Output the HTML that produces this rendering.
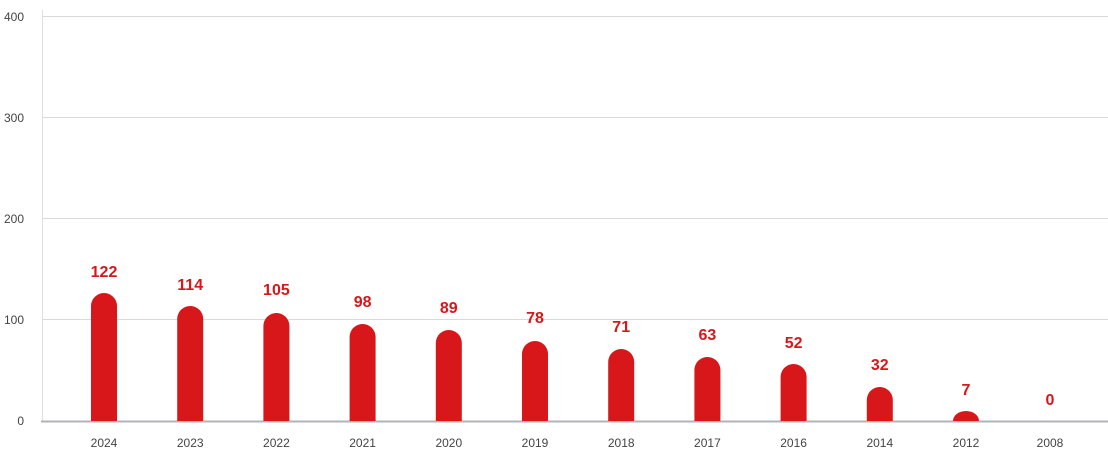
<!DOCTYPE html>
<html><head><meta charset="utf-8"><style>
body{margin:0;background:#fff;width:1108px;height:451px;overflow:hidden}
</style></head><body>
<svg width="1108" height="451" xmlns="http://www.w3.org/2000/svg" font-family="Liberation Sans, sans-serif">
<g stroke="#d9d9d9" stroke-width="1">
<line x1="42" y1="16.5" x2="1108" y2="16.5"/>
<line x1="42" y1="117.5" x2="1108" y2="117.5"/>
<line x1="42" y1="218.5" x2="1108" y2="218.5"/>
<line x1="42" y1="319.5" x2="1108" y2="319.5"/>
<line x1="42.5" y1="10" x2="42.5" y2="421" stroke="#e0e0e0"/>
</g>
<line x1="41" y1="421.5" x2="1108" y2="421.5" stroke="#b0b3b8" stroke-width="2"/>
<g fill="#444" font-size="12" text-anchor="end">
<text x="24" y="21">400</text><text x="24" y="122">300</text><text x="24" y="223">200</text><text x="24" y="324">100</text><text x="24" y="425">0</text>
</g>
<g fill="#d7171a" id="bars"></g>
<g fill="#d7171a" font-size="16" font-weight="bold" text-anchor="middle" id="lbl"></g>
<g fill="#444" font-size="12" text-anchor="middle" id="yr"></g>
<script>
var d=[["2024",122,293,277],["2023",114,306,290],["2022",105,313,295],["2021",98,324,307],["2020",89,330,313],["2019",78,341,323],["2018",71,349,332],["2017",63,357,340],["2016",52,364,348],["2014",32,387,370],["2012",7,411,395],["2008",0,421,405]];
var ns="http://www.w3.org/2000/svg",b=document.getElementById('bars'),l=document.getElementById('lbl'),y=document.getElementById('yr');
d.forEach(function(e,i){var cx=i==11?1050:104+i*86.2;
if(e[1]>0){var h=421-e[2],r=Math.min(13,h);var p=document.createElementNS(ns,'path');
p.setAttribute('d','M'+(cx-13)+' 421 V'+(e[2]+r)+' A13 '+r+' 0 0 1 '+(cx+13)+' '+(e[2]+r)+' V421 Z');b.appendChild(p);}
var t=document.createElementNS(ns,'text');t.setAttribute('x',cx);t.setAttribute('y',e[3]);t.textContent=e[1];l.appendChild(t);
var u=document.createElementNS(ns,'text');u.setAttribute('x',cx);u.setAttribute('y',447);u.textContent=e[0];y.appendChild(u);});
</script>
</svg>
</body></html>
